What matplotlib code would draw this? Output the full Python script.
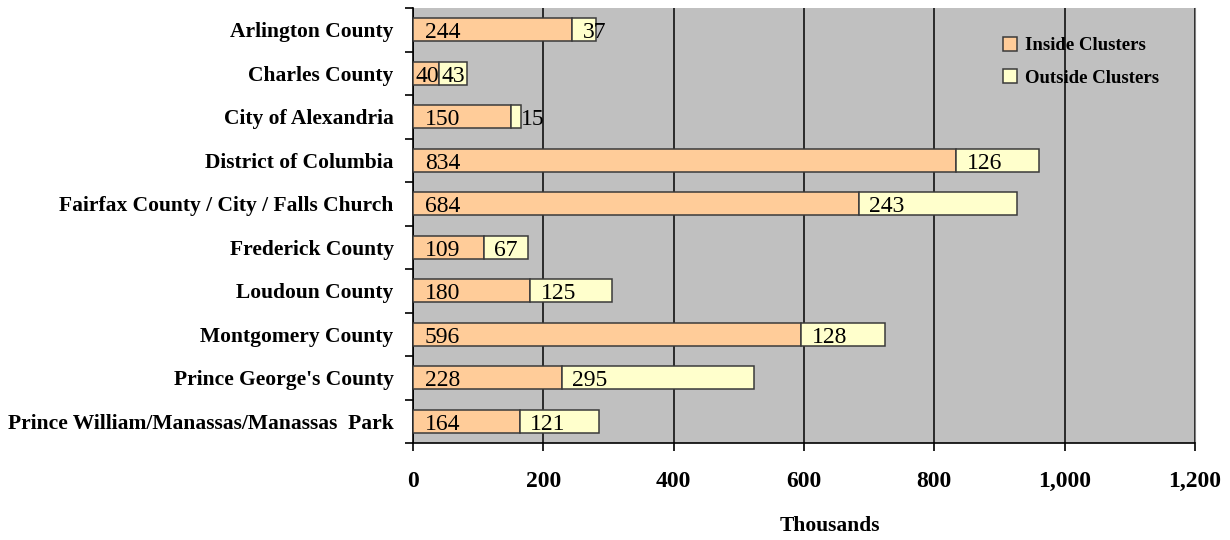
import matplotlib
matplotlib.use("Agg")
import matplotlib.pyplot as plt
from matplotlib.ticker import FuncFormatter, FixedLocator
import numpy as np

categories = ["Arlington County", "Charles County", "City of Alexandria",
              "District of Columbia", "Fairfax County / City / Falls Church",
              "Frederick County", "Loudoun County", "Montgomery County",
              "Prince George's County", "Prince William/Manassas/Manassas  Park"]
inside = [244, 40, 150, 834, 684, 109, 180, 596, 228, 164]
outside = [37, 43, 15, 126, 243, 67, 125, 128, 295, 121]

plt.rcParams['font.family'] = ['Liberation Serif', 'DejaVu Serif']

fig = plt.figure(figsize=(12.3, 5.4), dpi=100)
ax = fig.add_axes([413/1230, 1-443/540, (1195-413)/1230, (443-8)/540])
ax.set_facecolor('#C0C0C0')

y = np.arange(len(categories))
h = 0.54
ax.barh(y, inside, height=h, color='#FFCC99', edgecolor='#3a3a3a', linewidth=1.1,
        label='Inside Clusters', zorder=3)
ax.barh(y, outside, left=inside, height=h, color='#FFFFCC', edgecolor='#3a3a3a',
        linewidth=1.1, label='Outside Clusters', zorder=3)

for i in range(len(categories)):
    ax.annotate(str(inside[i]), xy=(0, y[i]), xytext=(1.5 if inside[i] < 60 else 8.5, -6),
                textcoords='offset points', va='baseline', ha='left', fontsize=17, zorder=4)
    ax.annotate(str(outside[i]), xy=(inside[i], y[i]), xytext=(1.5 if outside[i] < 60 and inside[i] < 60 else 7.5, -6),
                textcoords='offset points', va='baseline', ha='left', fontsize=17, zorder=4)

ax.set_xlim(0, 1200)
ax.set_ylim(len(categories) - 0.5, -0.5)
ax.set_xticks(range(0, 1201, 200))
ax.xaxis.set_major_formatter(FuncFormatter(lambda v, p: f"{int(v):,}"))
ax.grid(axis='x', color='#111111', linewidth=1.2, zorder=1)
ax.set_yticks(y)
ax.set_yticklabels(categories, fontsize=15.5, fontweight='bold')
ax.tick_params(axis='y', length=0, pad=14)
ax.yaxis.set_minor_locator(FixedLocator(np.arange(-0.5, len(categories), 1)))
ax.tick_params(axis='y', which='minor', length=6, width=1.2, direction='out')
ax.tick_params(axis='x', length=6, width=1.2, pad=14, labelsize=17)
for lbl in ax.get_xticklabels():
    lbl.set_fontweight('bold')
fig.text(830/1230, 1-526/540, 'Thousands', fontsize=15.5, fontweight='bold',
         ha='center', va='center')

ax.spines['top'].set_visible(False)
ax.spines['right'].set_color('#808080')
ax.spines['left'].set_linewidth(1.2)
ax.spines['bottom'].set_linewidth(1.2)

leg = ax.legend(loc='upper left', bbox_to_anchor=((1003-413)/782, 1-29/435), frameon=False,
                prop={'size': 13.5, 'weight': 'bold'}, handlelength=0.75, handleheight=0.75,
                handletextpad=0.4, labelspacing=0.8, borderpad=0, borderaxespad=0)

fig.savefig('out.png', dpi=100, facecolor='white')
